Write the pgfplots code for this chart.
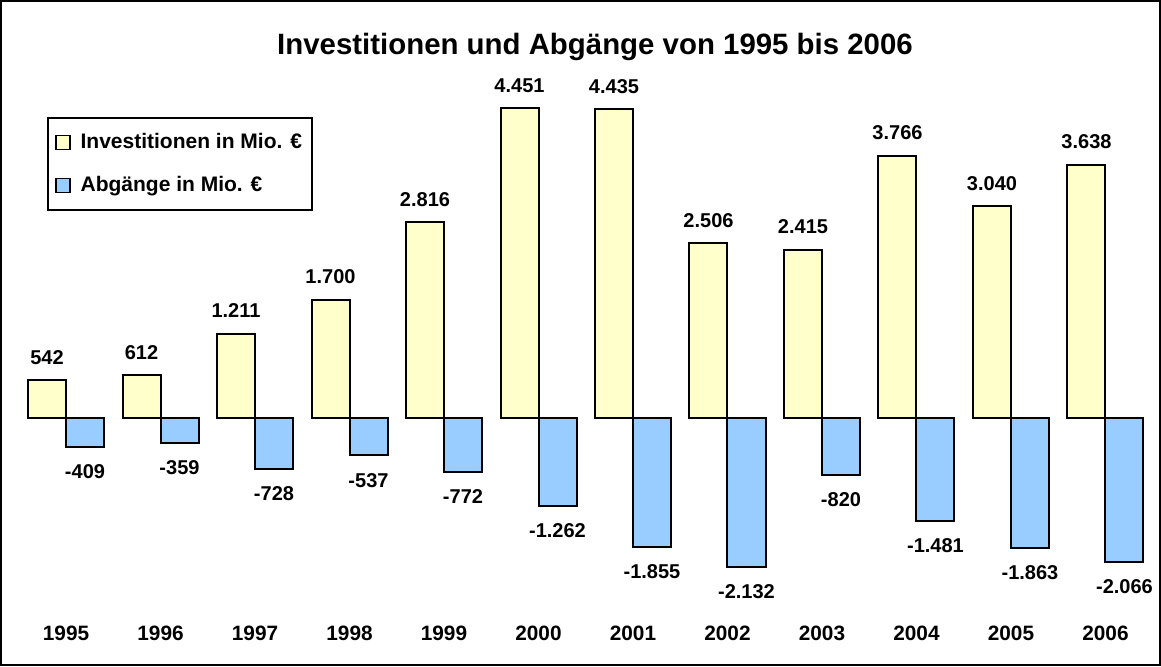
\documentclass[border=0pt]{standalone}
\usepackage{pgfplots}
\pgfplotsset{compat=1.18}
\usepackage{fontspec}
\setmainfont{Liberation Sans}

\definecolor{invest}{HTML}{FFFFCC}
\definecolor{abgang}{HTML}{99CCFF}

\begin{document}
\begin{tikzpicture}
\begin{axis}[
    scale only axis,
    width=579.5pt, height=332pt,
    xmin=-0.688, xmax=11.577,
    ymin=-3546, ymax=5987,
    axis line style={black, line width=1pt},
    ybar=0pt,
    bar width=19pt,
    xtick={0,...,11},
    xticklabels={1995,1996,1997,1998,1999,2000,2001,2002,2003,2004,2005,2006},
    major tick length=0pt,
    xticklabel style={anchor=base, yshift=12.5pt, font=\fontsize{10.4}{12}\selectfont\bfseries},
    ytick=\empty,
    point meta=explicit symbolic,
    nodes near coords={\pgfplotspointmeta},
    nodes near coords style={font=\fontsize{10}{12}\selectfont\bfseries, black},
    legend style={at={(0.0397,0.825)}, anchor=north west, draw=black, line width=1pt,
        font=\fontsize{10.5}{12}\selectfont\bfseries, inner xsep=3.5pt, inner ysep=6pt,
        row sep=9.5pt, nodes={inner sep=1.5pt},
        /tikz/every odd column/.append style={column sep=3.5pt}},
    legend cell align=left,
    legend image code/.code={\draw[#1, line width=0.8pt] (0pt,-3.5pt) rectangle (7pt,3.5pt);},
]

\addplot[fill=invest, draw=black, line width=1pt,
    every node near coord/.append style={anchor=south, yshift=4pt}]
coordinates {
(0,542) [542]
(1,612) [612]
(2,1211) [1.211]
(3,1700) [1.700]
(4,2816) [2.816]
(5,4451) [4.451]
(6,4435) [4.435]
(7,2506) [2.506]
(8,2415) [2.415]
(9,3766) [3.766]
(10,3040) [3.040]
(11,3638) [3.638]
};
\addlegendentry{Investitionen in Mio. €}

\addplot[fill=abgang, draw=black, line width=1pt,
    every node near coord/.append style={anchor=north, yshift=-5pt}]
coordinates {
(0,-409) [-409]
(1,-359) [-359]
(2,-728) [-728]
(3,-537) [-537]
(4,-772) [-772]
(5,-1262) [-1.262]
(6,-1855) [-1.855]
(7,-2132) [-2.132]
(8,-820) [-820]
(9,-1481) [-1.481]
(10,-1863) [-1.863]
(11,-2066) [-2.066]
};
\addlegendentry{Abgänge in Mio. €}

\node[font=\fontsize{14.7}{17}\selectfont\bfseries] at (rel axis cs:0.5125,0.9307) {Investitionen und Abgänge von 1995 bis 2006};
\end{axis}
\end{tikzpicture}
\end{document}
